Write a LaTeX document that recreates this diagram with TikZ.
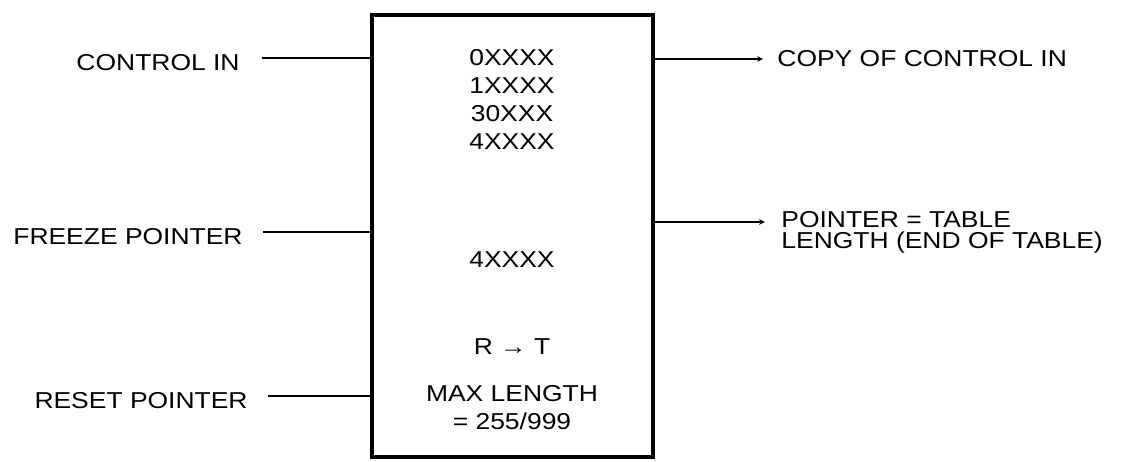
\documentclass[tikz,border=0pt]{standalone}
\usepackage{fontspec}
\setmainfont{Liberation Sans}[FakeStretch=1.15]
\usepackage{tikz}
\usetikzlibrary{arrows.meta}

\begin{document}
\begin{tikzpicture}[x=0.5pt, y=-0.5pt,
    lbl/.style={font=\fontsize{11.5}{10.5}\selectfont, inner sep=0pt},
    intext/.style={font=\fontsize{11.5}{14}\selectfont, align=center, inner sep=0pt},
    wire/.style={line width=1.4pt},
    outwire/.style={line width=1.4pt, -{Stealth[length=3pt, width=2.8pt]}},
  ]
  \useasboundingbox (0,0) rectangle (1136,461);

  % the table block
  \node[draw, line width=2pt, minimum width=140.5pt, minimum height=221pt, inner sep=0pt]
        (unit) at (512.5,236) {};
  \node[intext] (codes) at (512,99) {0XXXX\\1XXXX\\30XXX\\4XXXX};
  \node[intext] (last) at (512,260) {4XXXX};
  \node[intext] (rt) at (512,347) {R → T};
  \node[intext] (maxlen) at (512,408) {MAX LENGTH\\= 255/999};

  % inputs
  \node[lbl, anchor=east, inner xsep=11pt] (ctl) at (262,63) {CONTROL IN};
  \node[lbl, anchor=east, inner xsep=10pt] (frz) at (263,237) {FREEZE POINTER};
  \node[lbl, anchor=east, inner xsep=10pt] (rst) at (268,401) {RESET POINTER};
  \foreach \n in {ctl,frz,rst}
    \draw[wire] ([yshift=2.5pt]\n.east) -- ([yshift=2.5pt]\n.east -| unit.west);

  % outputs
  \node[lbl, anchor=west, inner xsep=7pt] (copy) at (763,59) {COPY OF CONTROL IN};
  \node[lbl, anchor=west, inner xsep=8pt, align=left] (ptr) at (765,232)
        {POINTER = TABLE\\LENGTH (END OF TABLE)};
  \draw[outwire] (copy.west -| unit.east) -- (copy.west);
  \draw[outwire] ([yshift=5pt]ptr.west -| unit.east) -- ([yshift=5pt]ptr.west);
\end{tikzpicture}
\end{document}
